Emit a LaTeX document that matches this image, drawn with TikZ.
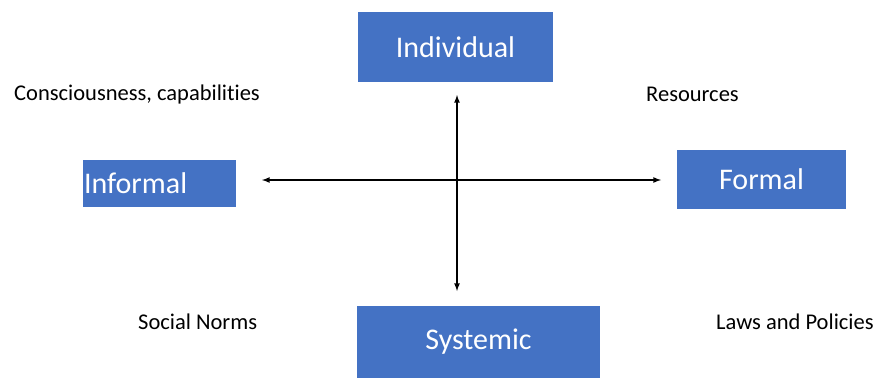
\documentclass[tikz,border=0pt]{standalone}
\usepackage{fontspec}
\setmainfont[Ligatures=NoCommon]{Carlito}
\definecolor{boxblue}{HTML}{4472C4}
\tikzset{
  bluebox/.style={fill=boxblue, text=white, font=\fontsize{30}{34}\selectfont, inner sep=0pt},
  sidelabel/.style={font=\fontsize{22.5}{26}\selectfont, inner sep=0pt}
}
\begin{document}
\begin{tikzpicture}[x=1pt,y=-1pt,>=latex]
      \useasboundingbox (0,0) rectangle (877,378);

      % boxes
      \node[bluebox, minimum width=195pt, minimum height=70pt] (individual) at (455.5,47) {Individual};
      \node[bluebox, minimum width=153pt, minimum height=47pt, text width=151pt, align=left] (informal) at (159.5,183.5) {Informal};
      \node[bluebox, minimum width=169pt, minimum height=59pt] (formal) at (761.5,179.5) {Formal};
      \node[bluebox, minimum width=243pt, minimum height=72pt] (systemic) at (478.5,342) {Systemic};

      % labels
      \node[sidelabel, anchor=west] (conscious) at (14,94) {Consciousness, capabilities};
      \node[sidelabel, anchor=west] (resources) at (646,94) {Resources};
      \node[sidelabel, anchor=west] (norms) at (138,322) {Social Norms};
      \node[sidelabel, anchor=west] (laws) at (716,322) {Laws and Policies};

      % axes
      \coordinate (west) at (262,180);
      \coordinate (east) at (661,180);
      \coordinate (north) at (457,95);
      \coordinate (south) at (457,291);
      \draw[line width=1.6pt,<->] (west) -- (east);
      \draw[line width=1.6pt,<->] (north) -- (south);
    \end{tikzpicture}
\end{document}
